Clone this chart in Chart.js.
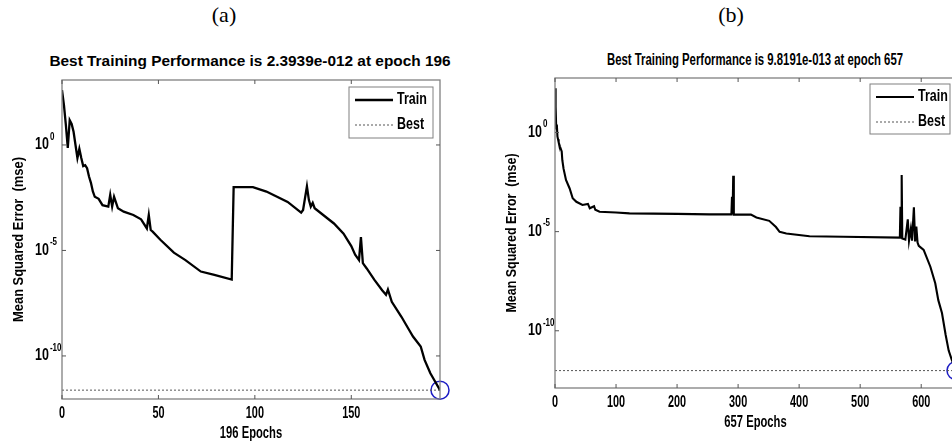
<!DOCTYPE html>
<html>
<head>
<meta charset="utf-8">
<script src="https://cdn.jsdelivr.net/npm/chart.js@4"></script>
<style>
  html, body { margin: 0; padding: 0; background: #fff; overflow: hidden; width: 952px; height: 444px; }
  canvas { position: absolute; top: 0; }
  #chartA { left: 0; }
  #chartB { left: 476px; }
  .lbl { position: absolute; white-space: nowrap; transform: translate(-50%, -50%); color: #000; }
  .panel { font-family: "Liberation Serif", "DejaVu Serif", serif; font-size: 22px; }
  #titleA { font: bold 15.4px "Liberation Sans", Arial, sans-serif; }
  #titleB { font: bold 16px "Liberation Sans", Arial, sans-serif; transform: translate(-50%, -50%) scaleX(0.71); }
</style>
</head>
<body>
<div class="lbl panel" style="left:224px; top:15px">(a)</div>
<div class="lbl panel" style="left:731px; top:15px">(b)</div>
<div class="lbl" id="titleA" style="left:250px; top:61px">Best Training Performance is 2.3939e-012 at epoch 196</div>
<div class="lbl" id="titleB" style="left:755px; top:60px">Best Training Performance is 9.8191e-013 at epoch 657</div>
<canvas id="chartA" width="476" height="444"></canvas>
<canvas id="chartB" width="500" height="444"></canvas>
<script>
const FONT = '"Liberation Sans", Arial, sans-serif';

// (a) training record, 196 epochs
const epochsA = [0, 1, 2, 3, 4, 5, 6, 7, 8, 9, 10, 11, 12, 13, 14, 15, 16, 17, 19, 21, 24, 25, 26, 27, 29,
  32, 37, 41, 44, 45, 46, 47, 51, 58, 64, 72, 79, 88, 89, 99, 106, 117, 124, 125, 127, 128, 129, 130, 131,
  141, 146, 150, 152, 154, 155, 156, 158, 162, 166, 168, 169, 171, 176, 180, 182, 186, 188, 191, 193, 196];
const mseA = [400, 79, 8.9, 0.72, 15, 10, 4.2, 1.0, 0.24, 0.65, 0.24, 0.1, 0.11, 0.079, 0.032, 0.016, 6.3e-3, 3.5e-3, 2.8e-3, 1.4e-3, 1.2e-3, 4.3e-3, 1.2e-3, 3.5e-3, 1.0e-3,
  6.9e-4, 4.8e-4, 3.0e-4, 1.1e-4, 4.8e-4, 9.3e-5, 7.8e-5, 3.2e-5, 7.9e-6, 3.5e-6, 1.0e-6, 6.9e-7, 4.2e-7, 1.0e-2, 1.0e-2, 6.2e-3, 2.0e-3, 6.2e-4, 8.3e-4, 1.1e-2, 2.5e-3, 1.2e-3, 1.8e-3, 1.0e-3,
  1.9e-4, 6.3e-5, 1.6e-5, 6.3e-6, 3.5e-6, 4.3e-5, 2.5e-6, 1.4e-6, 4.0e-7, 1.3e-7, 7.9e-8, 1.4e-7, 3.7e-8, 7.2e-9, 1.7e-9, 8.3e-10, 2.8e-10, 6.5e-11, 1.5e-11, 7.2e-12, 2.3939e-12];
const bestA = 2.3939e-12;
const bestEpochA = 196;
const xTicksA = [0, 50, 100, 150];

// (b) training record, 657 epochs
const epochsB = [0, 1, 2, 3, 4, 5, 6, 8, 11, 12, 14, 18, 24, 29, 35, 45, 54, 57, 64, 66, 73, 100, 122, 200, 253,
  289, 290, 291, 292, 293, 321, 330, 351, 362, 368, 379, 417, 472, 565, 566, 567, 568, 569, 574, 578, 580,
  583, 585, 588, 590, 592, 594, 596, 604, 615, 623, 628, 634, 640, 645, 650, 657];
const mseB = [170, 20, 1.6, 2.5, 0.63, 0.45, 0.32, 0.2, 0.11, 0.04, 0.015, 4.0e-3, 1.5e-3, 4.8e-4, 3.2e-4, 2.2e-4, 2.5e-4, 1.5e-4, 1.9e-4, 1.26e-4, 1.0e-4, 9.3e-5, 8.3e-5, 7.9e-5, 7.4e-5,
  7.4e-5, 5.8e-4, 7.4e-5, 6.5e-3, 7.2e-5, 7.2e-5, 5.2e-5, 3.5e-5, 1.7e-5, 9.8e-6, 8.1e-6, 5.9e-6, 5.5e-6, 5.0e-6, 1.8e-4, 5.0e-6, 7.2e-3, 4.5e-6, 4.0e-6, 4.2e-5, 3.5e-6,
  1.4e-5, 3.5e-6, 1.7e-4, 3.2e-6, 1.8e-5, 2.8e-6, 1.9e-6, 1.2e-6, 1.7e-7, 2.5e-8, 3.5e-9, 7.9e-10, 6.3e-11, 1.0e-11, 3.5e-12, 9.8191e-13];
const bestB = 9.8191e-13;
const bestEpochB = 657;
const xTicksB = [0, 100, 200, 300, 400, 500, 600];

const yTicks = [1e-10, 1e-5, 1];
const yTickExp = ['-10', '-5', '0'];

function line(ctx, x1, y1, x2, y2) {
  ctx.beginPath();
  ctx.moveTo(x1, y1);
  ctx.lineTo(x2, y2);
  ctx.stroke();
}

// narrow bold text, squeezed sideways (no condensed face installed)
function narrowText(ctx, text, x, y, size, sx, align, rot) {
  ctx.save();
  ctx.font = 'bold ' + size + 'px ' + FONT;
  ctx.fillStyle = '#000';
  ctx.textBaseline = 'middle';
  ctx.textAlign = align;
  ctx.translate(x, y);
  if (rot) ctx.rotate(rot);
  ctx.scale(sx, 1);
  ctx.fillText(text, 0, 0);
  const w = ctx.measureText(text).width * sx;
  ctx.restore();
  return w;
}

// box, inward ticks, labels and the legend, drawn the matlab way
const matlabAxes = {
  id: 'matlabAxes',
  afterDraw(chart, args, o) {
    const ctx = chart.ctx;
    const a = chart.chartArea;
    const x = chart.scales.x, y = chart.scales.y;
    ctx.save();
    ctx.strokeStyle = '#808080';
    ctx.lineWidth = 1.3;
    ctx.strokeRect(a.left, a.top, a.right - a.left, a.bottom - a.top);

    ctx.lineWidth = 1;
    ctx.strokeStyle = '#555';
    x.ticks.forEach(t => {
      const px = x.getPixelForValue(t.value);
      line(ctx, px, a.bottom, px, a.bottom - 4);
      line(ctx, px, a.top, px, a.top + 4);
      narrowText(ctx, String(t.value), px, a.bottom + 15, 16, 0.68, 'center');
    });
    y.ticks.forEach((t, i) => {
      const py = y.getPixelForValue(t.value);
      line(ctx, a.left, py, a.left + 4, py);
      line(ctx, a.right, py, a.right - 4, py);
      const w = narrowText(ctx, '10', a.left - 27, py, 16, 0.78, 'left');
      narrowText(ctx, yTickExp[i], a.left - 27 + w + 1, py - 8, 10, 0.8, 'left');
    });

    narrowText(ctx, o.xTitle, (a.left + a.right) / 2, a.bottom + 35, 16, 0.7, 'center');
    narrowText(ctx, 'Mean Squared Error  (mse)', a.left - 43, (a.top + a.bottom) / 2, 15, o.ySx, 'center', -Math.PI / 2);

    // legend box
    const bx = a.right - o.inset - o.w, by = a.top + o.inset;
    ctx.fillStyle = '#fff';
    ctx.fillRect(bx, by, o.w, o.h);
    ctx.strokeStyle = '#808080';
    ctx.lineWidth = 1;
    ctx.strokeRect(bx, by, o.w, o.h);
    chart.data.datasets.slice(0, 2).forEach((ds, i) => {
      const ry = by + 13 + i * 25;
      ctx.strokeStyle = ds.borderColor;
      ctx.lineWidth = ds.borderWidth;
      ctx.setLineDash(ds.borderDash || []);
      line(ctx, bx + 6, ry, bx + 44, ry);
      ctx.setLineDash([]);
      narrowText(ctx, ds.label, bx + 48, ry, 16, 0.78, 'left');
    });
    ctx.restore();
  }
};

function makeChart(id, epochs, mse, best, bestEpoch, xTicks, cfg) {
  const maxEpoch = epochs[epochs.length - 1];
  return new Chart(document.getElementById(id), {
    type: 'line',
    data: {
      datasets: [
        {
          label: 'Train',
          data: epochs.map((e, i) => ({ x: e, y: mse[i] })),
          borderColor: '#000',
          borderWidth: cfg.lw,
          pointRadius: 0,
          tension: 0
        },
        {
          label: 'Best',
          data: [{ x: 0, y: best }, { x: maxEpoch, y: best }],
          borderColor: '#555',
          borderWidth: 1,
          borderDash: [2, 2],
          pointRadius: 0
        },
        {
          label: '',
          data: [{ x: bestEpoch, y: best }],
          showLine: false,
          pointRadius: 9,
          pointBorderColor: '#1c1cc4',
          pointBorderWidth: 1.5,
          pointBackgroundColor: 'rgba(0,0,0,0)',
          clip: false
        }
      ]
    },
    options: {
      responsive: false,
      animation: false,
      layout: { padding: { left: 0, top: cfg.top, right: cfg.right, bottom: 0 } },
      plugins: {
        legend: { display: false },
        tooltip: { enabled: false },
        matlabAxes: cfg.axes
      },
      scales: {
        x: {
          type: 'linear',
          min: 0,
          max: maxEpoch,
          afterBuildTicks: s => { s.ticks = xTicks.map(v => ({ value: v })); },
          afterFit: s => { s.height = cfg.xh; },
          grid: { display: false, drawTicks: false },
          border: { display: false },
          ticks: { display: false }
        },
        y: {
          type: 'logarithmic',
          min: cfg.ymin,
          max: cfg.ymax,
          afterBuildTicks: s => { s.ticks = yTicks.map(v => ({ value: v })); },
          afterFit: s => { s.width = cfg.yw; },
          grid: { display: false, drawTicks: false },
          border: { display: false },
          ticks: { display: false }
        }
      }
    },
    plugins: [matlabAxes]
  });
}

makeChart('chartA', epochsA, mseA, bestA, bestEpochA, xTicksA, {
  lw: 2.3, top: 80, right: 36, xh: 45, yw: 62,
  ymin: 9.1e-13, ymax: 1.2e3,
  axes: { w: 84, h: 51, inset: 7, xTitle: '196 Epochs', ySx: 0.86 }
});
makeChart('chartB', epochsB, mseB, bestB, bestEpochB, xTicksB, {
  lw: 2.1, top: 78, right: 20, xh: 56, yw: 79,
  ymin: 1.3e-13, ymax: 5.6e2,
  axes: { w: 80, h: 50, inset: 6, xTitle: '657 Epochs', ySx: 0.83 }
});
</script>
</body>
</html>
